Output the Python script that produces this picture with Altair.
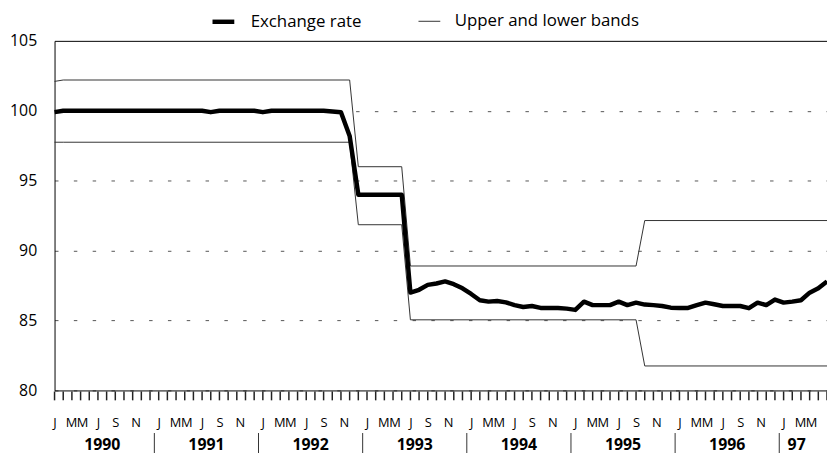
import altair as alt
import pandas as pd

# ---- data (month index 0 = Jan 1990) ----
months = list(range(90))
rate = [
    99.9, 100.0, 100.0, 100.0, 100.0, 100.0, 100.0, 100.0, 100.0, 100.0, 100.0, 100.0,   # 1990
    100.0, 100.0, 100.0, 100.0, 100.0, 100.0, 99.9, 100.0, 100.0, 100.0, 100.0, 100.0,   # 1991
    99.9, 100.0, 100.0, 100.0, 100.0, 100.0, 100.0, 100.0, 99.95, 99.9, 98.2, 94.0,      # 1992
    94.0, 94.0, 94.0, 94.0, 94.0, 87.0, 87.2, 87.55, 87.65, 87.8, 87.6, 87.3,            # 1993
    86.9, 86.45, 86.35, 86.4, 86.3, 86.1, 85.97, 86.04, 85.9, 85.9, 85.9, 85.85,         # 1994
    85.76, 86.35, 86.1, 86.1, 86.1, 86.35, 86.1, 86.28, 86.14, 86.1, 86.04, 85.92,       # 1995
    85.9, 85.9, 86.1, 86.28, 86.16, 86.04, 86.04, 86.04, 85.88, 86.28, 86.1, 86.5,       # 1996
    86.28, 86.35, 86.45, 86.99, 87.3, 87.8,                                              # 1997
]
band_month = [0, 1, 34, 35, 40, 41, 67, 68, 89]
upper = [102.1, 102.2, 102.2, 96.0, 96.0, 88.9, 88.9, 92.15, 92.15]
lower = [97.75, 97.75, 97.75, 91.85, 91.85, 85.05, 85.05, 81.75, 81.75]

series_names = ["Exchange rate", "Upper and lower bands"]
# month letters as they sit under the monthly ticks of each year
month_letters = ["J", "", "M", "M", "", "J", "", "S", "", "N", "", ""]
year_labels = ["1990", "1991", "1992", "1993", "1994", "1995", "1996", "97"]
year_label_pos = [5.5, 17.5, 29.5, 41.5, 53.5, 65.5, 77.5, 85.5]
year_breaks = [11.5, 23.5, 35.5, 47.5, 59.5, 71.5, 83.5]
y_ticks = [80, 85, 90, 95, 100, 105]

# ---- tables ----
rate_df = pd.DataFrame({"month": months, "value": rate,
                        "series": series_names[0], "line": "rate"})
band_df = pd.concat([
    pd.DataFrame({"month": band_month, "value": upper,
                  "series": series_names[1], "line": "upper"}),
    pd.DataFrame({"month": band_month, "value": lower,
                  "series": series_names[1], "line": "lower"}),
], ignore_index=True)
tick_df = pd.DataFrame({"month": months})
break_df = pd.DataFrame({"month": year_breaks})
year_df = pd.DataFrame({"month": year_label_pos, "label": year_labels})

FONT = "Open Sans"

x_scale = alt.Scale(domain=[0, 89], nice=False, zero=False)
y_scale = alt.Scale(domain=[80, 105], nice=False, zero=False)
color_scale = alt.Scale(domain=series_names, range=["#000000", "#333333"])
sw_scale = alt.Scale(domain=series_names, range=[4.5, 1.0])

label_expr = ("datum.value > 88 ? '' : ["
              + ",".join(f"'{m}'" for m in month_letters)
              + "][datum.value % 12]")

x_axis = alt.Axis(
    values=months, labelExpr=label_expr, title=None, grid=False,
    ticks=False, domain=True, domainColor="black", domainWidth=1,
    labelFont=FONT, labelFontSize=13, labelColor="black",
    labelBaseline="alphabetic", labelPadding=36, labelFlush=False,
    labelOverlap=False, labelBound=False,
    labelOffset={"condition": [
        {"test": "datum.value % 12 == 2", "value": -1},
        {"test": "datum.value % 12 == 3", "value": 1.5},
        {"test": "datum.value % 12 == 9", "value": 3},
    ], "value": 0},
)
y_axis = alt.Axis(
    values=y_ticks, title=None, ticks=False, labelPadding=18,
    labelFont=FONT, labelFontSize=16, labelColor="black",
    domain=True, domainColor="black", domainWidth=1, grid=True, gridWidth=1,
    gridDash={"condition": {"test": "datum.value == 105", "value": []}, "value": [3.5, 15.5]},
    gridColor={"condition": {"test": "datum.value == 105", "value": "#000000"}, "value": "#555555"},
)
legend = alt.Legend(
    orient="none", legendX=157, legendY=-33, direction="horizontal", title=None,
    symbolType="stroke", symbolSize=484, labelFont=FONT, labelFontSize=17,
    labelColor="black", labelOffset=14, columnPadding=55, padding=0, labelLimit=400,
)

X = alt.X("month:Q", scale=x_scale, axis=x_axis)

bands = alt.Chart(band_df).mark_line().encode(
    x=X,
    y=alt.Y("value:Q", scale=y_scale, axis=y_axis),
    color=alt.Color("series:N", scale=color_scale, legend=legend),
    strokeWidth=alt.StrokeWidth("series:N", scale=sw_scale, legend=legend),
    detail="line:N",
)
rate_line = alt.Chart(rate_df).mark_line(strokeJoin="round").encode(
    x=X,
    y=alt.Y("value:Q", scale=y_scale, axis=y_axis),
    color=alt.Color("series:N", scale=color_scale, legend=legend),
    strokeWidth=alt.StrokeWidth("series:N", scale=sw_scale, legend=legend),
    detail="line:N",
)
month_ticks = alt.Chart(tick_df).mark_rule(color="#222222", strokeWidth=1.5).encode(
    x=X,
    y=alt.value(354), y2=alt.value(363),
)
seps = alt.Chart(break_df).mark_rule(color="#333333", strokeWidth=1).encode(
    x=X,
    y=alt.value(396), y2=alt.value(420),
)
years = alt.Chart(year_df).mark_text(
    font=FONT, fontSize=16, fontWeight="bold", baseline="alphabetic",
    align="center", color="black",
).encode(
    x=X,
    y=alt.value(413),
    text="label:N",
)

chart = alt.layer(bands, rate_line, seps, years, month_ticks).properties(
    width=780, height=353,
    autosize=alt.AutoSizeParams(type="none"),
    padding={"left": 47, "top": 31, "right": 0, "bottom": 61},
).configure_view(stroke=None)

chart.save("out.html", embed_options={"renderer": "svg", "actions": False})
